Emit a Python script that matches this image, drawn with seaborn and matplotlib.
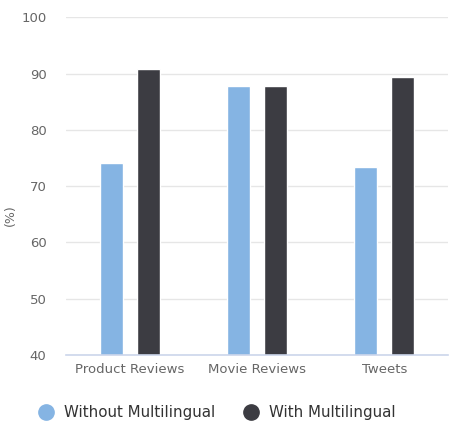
import pandas as pd
import matplotlib.pyplot as plt
import seaborn as sns
from matplotlib.lines import Line2D

# ----------------------------
# Data
# ----------------------------
categories = ["Product Reviews", "Movie Reviews", "Tweets"]
without_multi = [74.1, 87.8, 73.4]
with_multi = [90.9, 87.8, 89.4]
series_names = ["Without Multilingual", "With Multilingual"]
y_ticks = [40, 50, 60, 70, 80, 90, 100]

df = pd.DataFrame({
    "category": categories * 2,
    "value": without_multi + with_multi,
    "series": [series_names[0]] * 3 + [series_names[1]] * 3,
})

colors = ["#85b4e3", "#3c3c42"]

sns.set_style("white")
plt.rcParams["font.family"] = ["DejaVu Sans"]

fig = plt.figure(figsize=(4.56, 4.32), dpi=100)
ax = fig.add_axes([66 / 456, 1 - 355 / 432, (448 - 66) / 456, (355 - 17.3) / 432])

sns.barplot(data=df, x="category", y="value", hue="series", palette=colors,
            width=0.58, gap=0.38, saturation=1, ax=ax, legend=False)

ax.set_ylim(40, 100)
ax.set_yticks(y_ticks)
ax.yaxis.grid(True, color="#e6e6e6", linewidth=1)
ax.set_axisbelow(True)
for side in ["left", "right", "top"]:
    ax.spines[side].set_visible(False)
ax.spines["bottom"].set_color("#ccd6eb")
ax.spines["bottom"].set_linewidth(1.2)
ax.tick_params(axis="both", length=0, labelsize=9.5, labelcolor="#666666")
ax.tick_params(axis="y", pad=14)
ax.tick_params(axis="x", pad=6)
ax.set_xlabel("")
ax.set_ylabel("(%)", fontsize=9, color="#666666")
ax.yaxis.set_label_coords(-0.128, 0.415)

handles = [Line2D([0], [0], marker="o", linestyle="", markersize=11,
                  markerfacecolor=c, markeredgecolor=c) for c in colors]
fig.legend(handles, series_names, loc="center", bbox_to_anchor=(0.467, 1 - 413 / 432),
           ncol=2, frameon=False, fontsize=10.8, handletextpad=0.2, columnspacing=1.4,
           labelcolor="#333333")

fig.savefig("out.png", dpi=100)
